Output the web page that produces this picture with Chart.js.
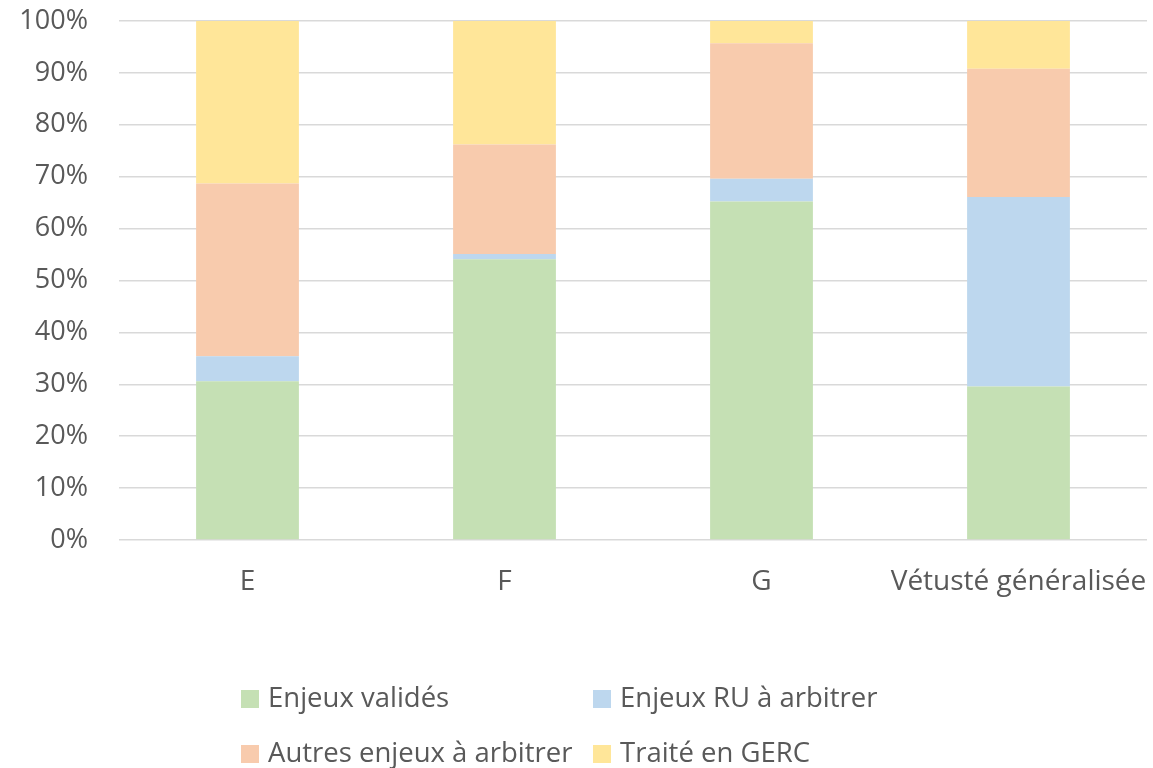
<!DOCTYPE html>
<html lang="fr">
<head>
<meta charset="utf-8">
<title>Répartition des enjeux par étiquette</title>
<script src="https://cdn.jsdelivr.net/npm/chart.js@4/dist/chart.umd.min.js"></script>
<style>
  html, body { margin: 0; padding: 0; background: #ffffff; }
  #wrap { width: 1153px; height: 768px; position: relative; }
</style>
</head>
<body>
<div id="wrap"><canvas id="chart" width="1153" height="768"></canvas></div>
<script>
// Catégories (étiquettes) et parts de chaque statut, en %
const categories = ['E', 'F', 'G', 'Vétusté généralisée'];
const enjeuxValides = [30.6, 54.1, 65.2, 29.6];
const enjeuxRU = [4.8, 1.0, 4.4, 36.5];
const autresEnjeux = [33.3, 21.1, 26.1, 24.7];
const traiteGERC = [31.3, 23.8, 4.3, 9.2];
const yTicks = [0, 10, 20, 30, 40, 50, 60, 70, 80, 90, 100];

const FONT = '"Open Sans", "Liberation Sans", sans-serif';
const TEXT = '#595959';

// Légende sur deux colonnes, dessinée sous le graphique
const legendGrid = {
  id: 'legendGrid',
  afterDraw(chart) {
    const ctx = chart.ctx;
    const cols = [241, 593];
    const rows = [699, 754];
    ctx.save();
    ctx.font = '27.5px ' + FONT;
    ctx.textBaseline = 'middle';
    ctx.textAlign = 'left';
    chart.data.datasets.forEach((ds, i) => {
      const x = cols[i % 2];
      const y = rows[Math.floor(i / 2)];
      ctx.fillStyle = ds.backgroundColor;
      ctx.fillRect(x, y - 9, 18, 18);
      ctx.fillStyle = TEXT;
      ctx.fillText(ds.label, x + 27, y);
    });
    ctx.restore();
  }
};

new Chart(document.getElementById('chart'), {
  type: 'bar',
  data: {
    labels: categories,
    datasets: [
      { label: 'Enjeux validés', data: enjeuxValides, backgroundColor: '#C5E0B4' },
      { label: 'Enjeux RU à arbitrer', data: enjeuxRU, backgroundColor: '#BDD7EE' },
      { label: 'Autres enjeux à arbitrer', data: autresEnjeux, backgroundColor: '#F8CBAD' },
      { label: 'Traité en GERC', data: traiteGERC, backgroundColor: '#FFE699' }
    ]
  },
  options: {
    responsive: false,
    animation: false,
    layout: { padding: { top: 21, right: 6, left: 0, bottom: 0 } },
    datasets: { bar: { barPercentage: 1, categoryPercentage: 0.4, borderWidth: 0 } },
    plugins: {
      legend: { display: false },
      tooltip: { enabled: false }
    },
    scales: {
      x: {
        stacked: true,
        grid: { display: false, drawTicks: false },
        border: { display: false },
        ticks: { color: TEXT, font: { family: FONT, size: 28 }, padding: 25, maxRotation: 0, autoSkip: false },
        afterFit(scale) {
          scale.height = 228;
          scale.paddingLeft = 0;
          scale.paddingRight = 0;
          scale.paddingTop = 0;
          scale.paddingBottom = 0;
        }
      },
      y: {
        stacked: true,
        min: 0,
        max: 100,
        afterBuildTicks(scale) { scale.ticks = yTicks.map(v => ({ value: v })); },
        grid: { color: '#D9D9D9', lineWidth: 1.5, drawTicks: false },
        border: { display: false },
        ticks: {
          color: TEXT,
          font: { family: FONT, size: 27 },
          padding: 31,
          callback: v => v + '%'
        },
        afterFit(scale) {
          scale.width = 119;
          scale.paddingTop = 0;
          scale.paddingBottom = 0;
          scale.paddingLeft = 0;
          scale.paddingRight = 0;
        }
      }
    }
  },
  plugins: [legendGrid]
});
</script>
</body>
</html>
